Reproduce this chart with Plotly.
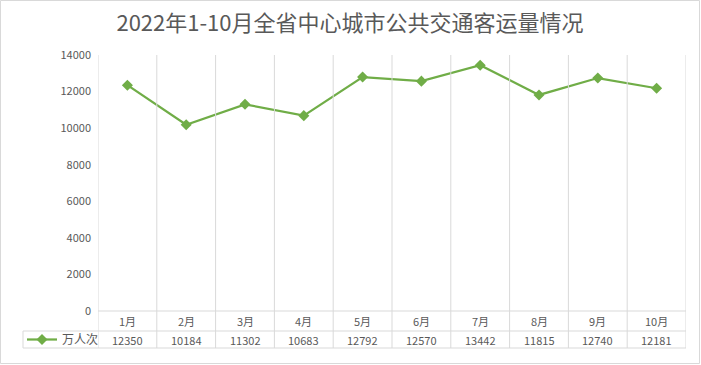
import plotly.graph_objects as go

months = ["1月", "2月", "3月", "4月", "5月", "6月", "7月", "8月", "9月", "10月"]
values = [12350, 10184, 11302, 10683, 12792, 12570, 13442, 11815, 12740, 12181]
series_name = "万人次"
title_text = "2022年1-10月全省中心城市公共交通客运量情况"
y_ticks = [0, 2000, 4000, 6000, 8000, 10000, 12000, 14000]

W, H = 701, 365
ML, MR, MT, MB = 98, 15, 55, 54
PW = W - ML - MR
PH = H - MT - MB

GREEN = "#70AD47"
GRID = "#D9D9D9"
TXT = "#595959"
FONT = "Noto Sans CJK SC"

def py(px):  # pixel y (from top) -> paper y
    return (H - MB - px) / PH

def pxp(px):  # pixel x -> paper x
    return (px - ML) / PW

n = len(months)
xs = list(range(n))

fig = go.Figure()
fig.add_trace(go.Scatter(
    x=xs, y=values, mode="lines+markers", name=series_name,
    line=dict(color=GREEN, width=2.25),
    marker=dict(symbol="diamond", size=8.5, color=GREEN),
    showlegend=True,
))

shapes = []
row1_bot = py(331)
row2_bot = py(348)
# vertical boundaries
for i in range(n + 1):
    shapes.append(dict(type="line", xref="x", yref="paper", x0=i - 0.5, x1=i - 0.5,
                       y0=row2_bot, y1=1, line=dict(color=GRID, width=1)))
# horizontal table lines
shapes.append(dict(type="line", xref="paper", yref="paper", x0=0, x1=1, y0=0, y1=0,
                   line=dict(color=GRID, width=1)))
for yy in (row1_bot, row2_bot):
    shapes.append(dict(type="line", xref="paper", yref="paper", x0=pxp(23), x1=1, y0=yy, y1=yy,
                       line=dict(color=GRID, width=1)))
shapes.append(dict(type="line", xref="paper", yref="paper", x0=pxp(23), x1=pxp(23),
                   y0=row2_bot, y1=row1_bot, line=dict(color=GRID, width=1)))
# outer border
shapes.append(dict(type="rect", xref="paper", yref="paper", x0=pxp(0.5), x1=pxp(W - 1.5),
                   y0=py(H - 1.5), y1=py(0.5), line=dict(color=GRID, width=1)))

annotations = []
for i, (m, v) in enumerate(zip(months, values)):
    annotations.append(dict(x=i, xref="x", y=py(321), yref="paper", text=m, showarrow=False,
                            font=dict(family=FONT, size=11, color=TXT), yanchor="middle"))
    annotations.append(dict(x=i, xref="x", y=py(340), yref="paper", text=str(v), showarrow=False,
                            font=dict(family=FONT, size=11, color=TXT), yanchor="middle"))

fig.update_layout(
    width=W, height=H,
    margin=dict(l=ML, r=MR, t=MT, b=MB, autoexpand=False),
    paper_bgcolor="white", plot_bgcolor="white",
    title=dict(text=title_text, x=350 / W, xref="container", xanchor="center", y=1 - 23 / H,
               yref="container", yanchor="middle",
               font=dict(family=FONT, size=22, color=TXT), automargin=False),
    xaxis=dict(range=[-0.5, n - 0.5], showgrid=False, showticklabels=False, zeroline=False,
               showline=False, ticks="", automargin=False),
    yaxis=dict(range=[0, 14000], tickvals=y_ticks, ticktext=[str(t) for t in y_ticks],
               showgrid=False, zeroline=False, showline=False, ticks="", automargin=False,
               tickfont=dict(family=FONT, size=11, color=TXT), ticklabelstandoff=6),
    showlegend=True,
    legend=dict(x=pxp(22), xanchor="left", y=py(339.5), yanchor="middle", yref="paper",
                bgcolor="rgba(0,0,0,0)", font=dict(family=FONT, size=12, color=TXT),
                itemwidth=30, tracegroupgap=0),
    shapes=shapes,
    annotations=annotations,
)

fig.write_html("out.html", config={"displayModeBar": False},
               post_script="document.body.style.margin='0';document.body.style.overflow='hidden';")
